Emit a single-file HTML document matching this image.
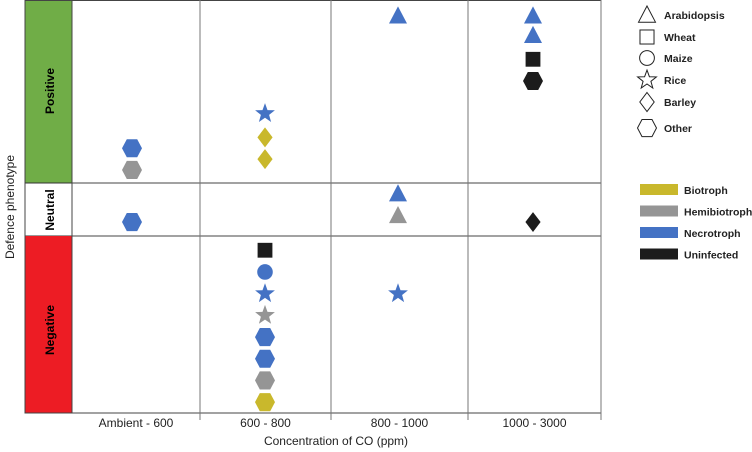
<!DOCTYPE html>
<html><head><meta charset="utf-8"><style>
body{margin:0;background:#fff;}
svg{display:block;font-family:"Liberation Sans",sans-serif;}
</style></head><body>
<svg id="chart" width="752" height="452">
<rect x="25" y="0" width="47" height="183" fill="#70ad47"/>
<rect x="25" y="183" width="47" height="53" fill="#fff" stroke="#333" stroke-width="1"/>
<rect x="25" y="236" width="47" height="177" fill="#ed1c24"/>
<text transform="translate(54,91) rotate(-90)" text-anchor="middle" font-size="12" font-weight="bold">Positive</text>
<text transform="translate(54,210) rotate(-90)" text-anchor="middle" font-size="12" font-weight="bold">Neutral</text>
<text transform="translate(54,330) rotate(-90)" text-anchor="middle" font-size="12" font-weight="bold">Negative</text>
<text transform="translate(14,207) rotate(-90)" text-anchor="middle" font-size="12" fill="#222">Defence phenotype</text>
<rect x="25" y="0.5" width="576" height="412.5" fill="none" stroke="#444" stroke-width="1"/>
<line x1="72" y1="183" x2="601" y2="183" stroke="#444"/>
<line x1="72" y1="236" x2="601" y2="236" stroke="#444"/>
<line x1="72" y1="0" x2="72" y2="413" stroke="#444"/>
<g id="grid"></g>
<g id="marks"></g>
<g id="legend"></g>
<text x="336" y="445" text-anchor="middle" font-size="12" fill="#222">Concentration of CO  (ppm)</text>
</svg>
<script>
const categories=["Ambient - 600","600 - 800","800 - 1000","1000 - 3000"];
const pointCol=[0,0,0, 1,1,1, 1,1,1,1,1,1,1,1, 2,2,2,2, 3,3,3,3,3];
const pointLevel=[12.2,11.2,8.8, 13.8,12.7,11.7, 7.5,6.5,5.5,4.5,3.5,2.5,1.5,0.5, 18.3,10.1,9.1,5.5, 18.3,17.4,16.3,15.3,8.8];
const pointShape=["hexagon","hexagon","hexagon","star","diamond","diamond","square","circle","star","star","hexagon","hexagon","hexagon","hexagon","triangle","triangle","triangle","star","triangle","triangle","square","hexagon","diamond"];
const pointType=["Necrotroph","Hemibiotroph","Necrotroph","Necrotroph","Biotroph","Biotroph","Uninfected","Necrotroph","Necrotroph","Hemibiotroph","Necrotroph","Necrotroph","Hemibiotroph","Biotroph","Necrotroph","Necrotroph","Hemibiotroph","Necrotroph","Necrotroph","Necrotroph","Uninfected","Uninfected","Uninfected"];
const shapeLabels=["Arabidopsis","Wheat","Maize","Rice","Barley","Other"];
const shapeKeys=["triangle","square","circle","star","diamond","hexagon"];
const typeLabels=["Biotroph","Hemibiotroph","Necrotroph","Uninfected"];
const typeColors=["#c9b82c","#959595","#4472c4","#1c1c1c"];

const NS="http://www.w3.org/2000/svg";
const colEdges=[72,200,331,468,601];
const colMarkX=[132,265,398,533];
function xScale(i){return colMarkX[i];}
function yScale(v){return 413-v*21.7;}
function mk(t,a,p){const e=document.createElementNS(NS,t);for(const k in a)e.setAttribute(k,a[k]);p.appendChild(e);return e;}
function shapeEl(s,cx,cy,r,fill,stroke,p){
  let e;
  if(s==="circle")e=mk("circle",{cx,cy,r:r*0.82},p);
  else if(s==="square")e=mk("rect",{x:cx-r*0.78,y:cy-r*0.78,width:r*1.56,height:r*1.56},p);
  else{let pts=[];
    if(s==="triangle")pts=[[0,-1.0],[0.95,0.8],[-0.95,0.8]];
    else if(s==="diamond")pts=[[0,-1.05],[0.8,0],[0,1.05],[-0.8,0]];
    else if(s==="hexagon")pts=[[-1.05,0],[-0.55,-0.95],[0.55,-0.95],[1.05,0],[0.55,0.95],[-0.55,0.95]];
    else if(s==="star"){for(let k=0;k<10;k++){const a=-Math.PI/2+k*Math.PI/5,rr=k%2?0.45:1.1;pts.push([Math.cos(a)*rr,Math.sin(a)*rr]);}}
    e=mk("polygon",{points:pts.map(q=>(cx+q[0]*r).toFixed(1)+","+(cy+q[1]*r).toFixed(1)).join(" ")},p);}
  e.setAttribute("fill",fill);e.setAttribute("stroke",stroke);
  return e;
}
const grid=document.getElementById("grid");
for(let i=1;i<colEdges.length;i++){
  const l=mk("line",{x1:colEdges[i],y1:0,x2:colEdges[i],y2:420,stroke:"#777","stroke-width":1},grid);
  
  
}
categories.forEach((c,i)=>{
  const t=mk("text",{x:(colEdges[i]+colEdges[i+1])/2,y:427,"text-anchor":"middle","font-size":"12",fill:"#222"},grid);
  t.textContent=c;
  
  
});
const marks=document.getElementById("marks");
pointCol.forEach((c,i)=>{
  const col=typeColors[typeLabels.indexOf(pointType[i])];
  const e=shapeEl(pointShape[i],xScale(c),yScale(pointLevel[i]),9.5,col,"none",marks);
  
  
});
const lg=document.getElementById("legend");
const legY=[15,37,58,80,102,128];
shapeKeys.forEach((s,i)=>{
  const e=shapeEl(s,647,legY[i],9,"#fff","#222",lg);
  
  
  const t=mk("text",{x:664,y:legY[i]+4,"font-size":"10.5","font-weight":"bold",fill:"#222"},lg);
  t.textContent=shapeLabels[i];
  
  
});
typeLabels.forEach((s,i)=>{
  const y=184+i*21.5;
  const r=mk("rect",{x:640,y:y,width:38,height:11,fill:typeColors[i]},lg);
  
  
  const t=mk("text",{x:684,y:y+10,"font-size":"10.5","font-weight":"bold",fill:"#222"},lg);
  t.textContent=s;
  
  
});
</script>
</body></html>
